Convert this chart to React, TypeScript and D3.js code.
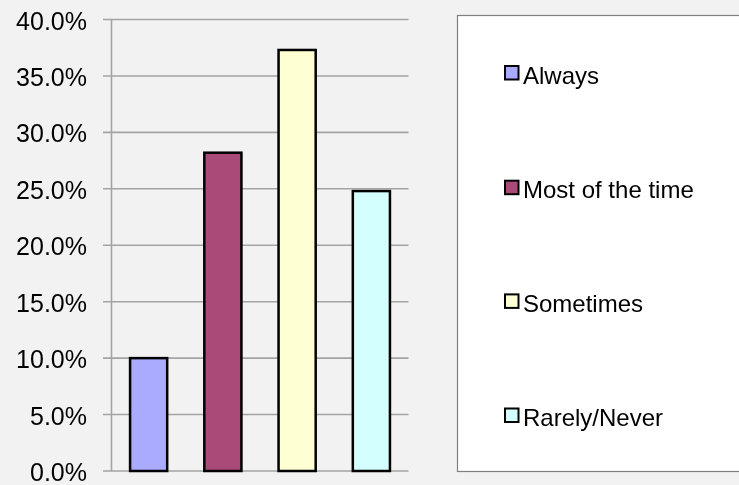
import React from "react";
import * as d3 from "d3";

const categories = ["Always", "Most of the time", "Sometimes", "Rarely/Never"];
const values = [10.0, 28.2, 37.3, 24.8];
const colors = ["#aaaaff", "#a94a78", "#ffffd4", "#d4ffff"];
const yTicks = [0, 5, 10, 15, 20, 25, 30, 35, 40];

const W = 739;
const H = 485;

export default function App() {
  const x0 = 111.5;
  const x1 = 408.5;
  const yTop = 19.5;
  const yBot = 471;
  const x = d3.scaleBand<string>().domain(categories).range([x0, x1]).paddingInner(0.5).paddingOuter(0.25);
  const y = d3.scaleLinear().domain([0, 40]).range([yBot, yTop]);
  const fmt = (v: number) => v.toFixed(1) + "%";
  const legendCenters = [73, 187.7, 301.4, 415.5];
  return (
    <div style={{ position: "fixed", left: 0, top: 0 }}>
      <svg width={W} height={H} style={{ display: "block", fontFamily: "'Liberation Sans', Arial, sans-serif" }}>
        <rect x={0} y={0} width={W} height={H} fill="#f2f2f2" />
        {yTicks.map((t) => (
          <g key={t}>
            <line x1={103} x2={x1} y1={y(t)} y2={y(t)} stroke="#a3a3a3" strokeWidth={1.6} />
            <text x={87} y={y(t) + 1} dy="0.36em" textAnchor="end" fontSize={25} fill="#000">
              {fmt(t)}
            </text>
          </g>
        ))}
        <line x1={x0} x2={x0} y1={yTop} y2={yBot} stroke="#a3a3a3" strokeWidth={1.6} />
        {categories.map((c, i) => (
          <rect
            key={c}
            x={x(c)!}
            y={y(values[i])}
            width={x.bandwidth()}
            height={yBot - y(values[i])}
            fill={colors[i]}
            stroke="#000"
            strokeWidth={2.5}
          />
        ))}
        <rect x={457.5} y={15.5} width={W} height={456} fill="#ffffff" stroke="#7f7f7f" strokeWidth={1.2} />
        {categories.map((c, i) => (
          <g key={c}>
            <rect
              x={505}
              y={legendCenters[i] - 7}
              width={13.5}
              height={13.5}
              fill={colors[i]}
              stroke="#000"
              strokeWidth={2}
            />
            <text x={523} y={legendCenters[i] + 2} dy="0.36em" fontSize={24} fill="#000">
              {c}
            </text>
          </g>
        ))}
      </svg>
    </div>
  );
}
